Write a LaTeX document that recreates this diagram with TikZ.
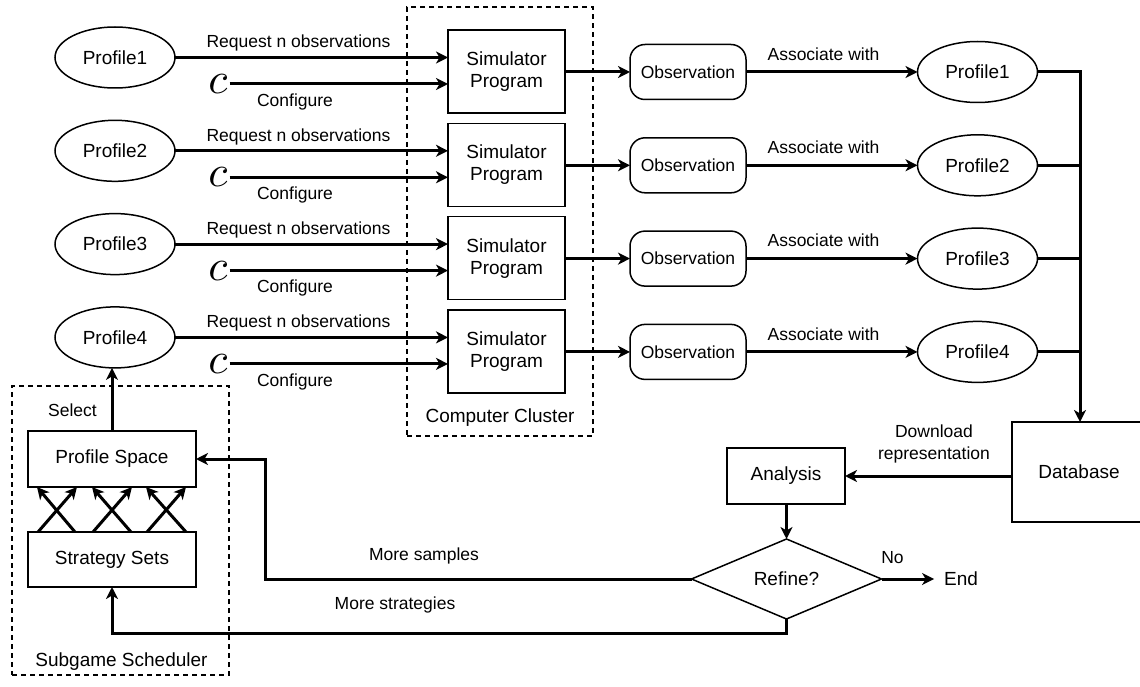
\documentclass[tikz,border=0pt]{standalone}
\usepackage{fontspec}
\setmainfont{Liberation Sans}
\usetikzlibrary{arrows.meta,shapes.geometric}
\begin{document}
\begin{tikzpicture}[x=1pt,y=-1pt,
  every node/.style={inner sep=0pt, outer sep=0pt},
  nodefont/.style={font=\fontsize{19}{22}\selectfont},
  lblfont/.style={font=\fontsize{17.5}{22}\selectfont},
  box/.style={draw, line width=1.5pt, rectangle, nodefont, align=center},
  prof/.style={draw, line width=1.5pt, ellipse, minimum width=120pt, minimum height=61pt, nodefont},
  obs/.style={draw, line width=1.5pt, rounded corners=15pt, minimum width=116pt, minimum height=55pt, lblfont},
  conn/.style={line width=3pt, -{Stealth[length=12pt,width=12pt,inset=3.5pt]}},
  wire/.style={line width=3pt},
  group/.style={draw, line width=2.8pt, dash pattern=on 5pt off 4pt, minimum width=#1},
  lbl/.style={lblfont},
  cfgsym/.style={scale=4.4},
]
\useasboundingbox (0,0) rectangle (1140,687);

% simulation rows
\foreach \i in {1,...,4} {
  \pgfmathsetmacro\dy{(\i-1)*93.3}
  \node[prof] (pl\i) at (115, 57.5+\dy) {Profile\i};
  \node[box, minimum width=117pt, minimum height=83pt] (sim\i) at (506.5, 71.5+\dy) {Simulator\\Program};
  \node[cfgsym] (c\i) at (218, 84+\dy) {\normalsize$c$};
  \node[obs] (obs\i) at (688, 72+\dy) {Observation};
  \node[prof] (pr\i) at (977.5, 72+\dy) {Profile\i};
  \node[lbl] (req\i) at (298.5, 43.3+\dy) {Request n observations};
  \node[lbl] (cfg\i) at (295, 101.7+\dy) {Configure};
  \node[lbl] (asc\i) at (823.5, 54+\dy) {Associate with};
  \draw[conn] (pl\i.east) -- (pl\i.east -| sim\i.west);
  \draw[conn] ([xshift=2pt]c\i.east) -- (c\i.east -| sim\i.west);
  \draw[conn] (sim\i.east |- obs\i.west) -- (obs\i.west);
  \draw[conn] (obs\i.east) -- (obs\i.east -| pr\i.west);
}

% cluster frame
\node[group=186pt, minimum height=429pt] (cluster) at (500, 221.5) {};
\node[nodefont] (clusterlbl) at (500, 418) {Computer Cluster};

% database and collection bus
\coordinate (bustop) at (1080, 72);
\node[box, minimum width=134pt, minimum height=100pt] (db) at (1079, 472) {Database};
\foreach \i in {2,3,4} {
  \draw[wire] (pr\i.east) -- (pr\i.east -| bustop);
}
\draw[conn] (pr1.east) -- (pr1.east -| bustop) -- (bustop |- db.north);

% analysis loop
\node[box, minimum width=118pt, minimum height=56pt] (ana) at (786, 476) {Analysis};
\node[draw, line width=1.5pt, diamond, minimum width=190pt, minimum height=80pt, nodefont] (ref) at (786.5, 579) {Refine?};
\node[nodefont] (endn) at (961, 579) {End};
\node[lbl] (nolbl) at (892.5, 558) {No};
\node[lbl, align=center] (dl) at (934, 444) {Download\\representation};
\draw[conn] (db.west |- ana.east) -- (ana.east);
\draw[conn] (ana.south -| ref.north) -- (ref.north);
\draw[conn, shorten >=10pt] (ref.east) -- (endn.west);

% scheduler
\node[group=217pt, minimum height=289pt] (sched) at (120.5, 530.5) {};
\node[nodefont] (schedlbl) at (121.5, 662) {Subgame Scheduler};
\node[box, minimum width=168pt, minimum height=56pt] (ps) at (112, 459) {Profile Space};
\node[box, minimum width=168pt, minimum height=55pt] (ss) at (112, 559.5) {Strategy Sets};
\node[lbl] (sel) at (72.5, 410) {Select};
\draw[conn] (ps.north) -- (ps.north |- pl4.south);

\draw[conn] ([xshift=47pt]ss.north west) -- ([xshift=9pt]ps.south west);
\draw[conn] ([xshift=10pt]ss.north west) -- ([xshift=49pt]ps.south west);
\draw[conn] ([xshift=103pt]ss.north west) -- ([xshift=64pt]ps.south west);
\draw[conn] ([xshift=65pt]ss.north west) -- ([xshift=104pt]ps.south west);
\draw[conn] ([xshift=158pt]ss.north west) -- ([xshift=118pt]ps.south west);
\draw[conn] ([xshift=119pt]ss.north west) -- ([xshift=158pt]ps.south west);

% feedback paths
\coordinate (k1) at (265, 459);
\coordinate (k2) at (112, 633);
\draw[conn] (ref.west) -| (k1) -- (ps.east);
\draw[conn] (ref.south) |- (k2) -- (ss.south);
\node[lbl] (mslbl) at (424, 556) {More samples};
\node[lbl] (mstlbl) at (395, 605) {More strategies};
\end{tikzpicture}
\end{document}
